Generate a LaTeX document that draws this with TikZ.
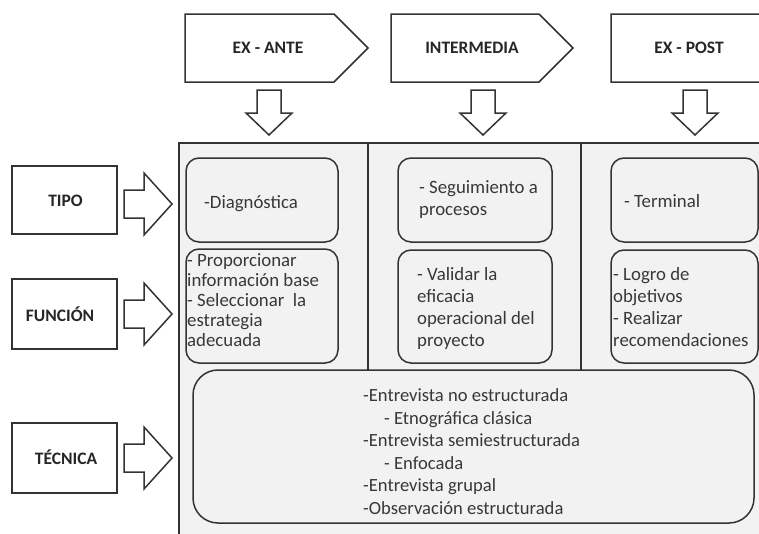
\documentclass[tikz,border=0pt]{standalone}
\usepackage{fontspec}
\setmainfont{Carlito}
\definecolor{ln}{HTML}{333333}
\definecolor{pnl}{HTML}{F2F2F2}
\newcommand\blockdown[2]{% centre x, top y
  \draw[outl, fill=white] (#1-12,#2) -- (#1+12,#2) -- (#1+12,#2+23) -- (#1+23,#2+23) -- (#1,#2+45) -- (#1-23,#2+23) -- (#1-12,#2+23) -- cycle;}
\newcommand\blockright[2]{% left x, centre y
  \draw[outl, fill=white] (#1,#2-14) -- (#1+20,#2-14) -- (#1+20,#2-31) -- (#1+48,#2) -- (#1+20,#2+31) -- (#1+20,#2+14) -- (#1,#2+14) -- cycle;}
\begin{document}
\begin{tikzpicture}[x=1pt,y=-1pt,
  outl/.style={draw=ln, line width=1.5pt},
  lbl/.style={font=\fontsize{17.5}{21}\selectfont\bfseries, inner sep=0pt, text=black!85},
  txt/.style={align=left, anchor=north west, inner sep=0pt, text=black!78},
  rbox/.style={outl, fill=pnl, rounded corners=13pt, inner sep=0pt},
  lbox/.style={outl, fill=white, rectangle, minimum width=105pt, inner sep=0pt}]
\useasboundingbox (0,0) rectangle (759,533);
\clip (0,0) rectangle (759,533);

% header pentagons
\draw[outl, fill=white] (185,14) -- (334,14) -- (368,48) -- (334,82) -- (185,82) -- cycle;
\draw[outl, fill=white] (391,14) -- (539,14) -- (573,48) -- (539,82) -- (391,82) -- cycle;
\draw[outl, fill=white] (611,14) -- (780,14) -- (814,48) -- (780,82) -- (611,82) -- cycle;
\node[lbl] (exante) at (268,48) {EX - ANTE};
\node[lbl] (interm) at (472,48) {INTERMEDIA};
\node[lbl] (expost) at (689,48) {EX - POST};

% down block arrows
\blockdown{269}{90}
\blockdown{483}{90}
\blockdown{695}{90}

% panel
\draw[outl, fill=pnl] (179,143) rectangle (800,600);
\draw[outl] (368,143) -- (368,372);
\draw[outl] (581,143) -- (581,372);

% left label boxes
\node[lbox, minimum height=68pt] (tipo) at (64.5,200) {};
\node[lbl] (tipot) at (65.5,201) {TIPO};
\node[lbox, minimum height=70pt] (funcion) at (64.5,314) {};
\node[lbl] (funciont) at (60,314) {FUNCIÓN};
\node[lbox, minimum height=70pt] (tecnica) at (64.5,458) {};
\node[lbl] (tecnicat) at (66,457) {TÉCNICA};

% right block arrows
\blockright{124}{204}
\blockright{124}{314}
\blockright{124}{458}

% rounded boxes
\node[rbox, minimum width=152pt, minimum height=84pt] (b11) at (262,200) {};
\node[rbox, minimum width=152pt, minimum height=114pt] (b12) at (262,306) {};
\node[rbox, minimum width=154pt, minimum height=84pt] (b21) at (475,200) {};
\node[rbox, minimum width=154pt, minimum height=113pt] (b22) at (475,306.5) {};
\node[rbox, minimum width=147pt, minimum height=84pt] (b31) at (684.5,200) {};
\node[rbox, minimum width=147pt, minimum height=113pt] (b32) at (684.5,306.5) {};
\node[rbox, rounded corners=25pt, minimum width=561pt, minimum height=153pt] (b4) at (473.5,446.5) {};

% texts
\node[txt, font=\fontsize{18.8}{21}\selectfont] (t11) at (204,194) {\strut-Diagnóstica};
\node[txt, font=\fontsize{18.8}{20}\selectfont] (t12) at (187,252.5) {\strut- Proporcionar\\información base\\- Seleccionar\ \ la\\estrategia\\adecuada};
\node[txt, font=\fontsize{18.8}{22}\selectfont] (t21) at (419,178) {\strut- Seguimiento a\\procesos};
\node[txt, font=\fontsize{18.8}{22}\selectfont] (t22) at (417,265) {\strut- Validar la\\eficacia\\operacional del\\proyecto};
\node[txt, font=\fontsize{18.8}{21}\selectfont] (t31) at (624,193) {\strut- Terminal};
\node[txt, font=\fontsize{18.8}{22}\selectfont] (t32) at (613,265) {\strut- Logro de\\objetivos\\- Realizar\\recomendaciones};
\node[txt, font=\fontsize{18.6}{22.5}\selectfont] (t4) at (363,386) {\strut-Entrevista no estructurada\\\hspace*{21pt}- Etnográfica clásica\\-Entrevista semiestructurada\\\hspace*{21pt}- Enfocada\\-Entrevista grupal\\-Observación estructurada};
\end{tikzpicture}
\end{document}
